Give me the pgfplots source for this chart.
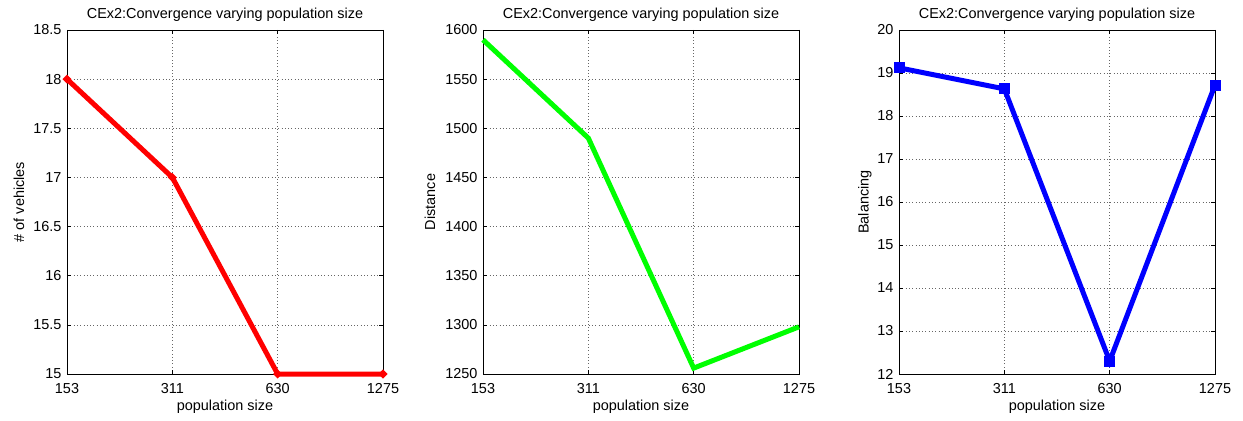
\documentclass[border=0pt]{standalone}
\usepackage{pgfplots}
\pgfplotsset{compat=1.18}
\usepackage{fontspec}
\setmainfont{Liberation Sans}
\pgfplotsset{
  mystyle/.style={
    scale only axis, width=316bp, height=344bp,
    xmin=0, xmax=3, xtick={0,1,2,3}, xticklabels={153,311,630,1275},
    grid=major, major grid style={black!60, line width=0.6pt, dash pattern=on 0.7bp off 2.6bp},
    tick align=inside, tick style={black, line width=0.5pt},
    axis line style={black, line width=0.8pt},
    major tick length=4bp,
    ticklabel style={font=\fontsize{14.5}{16}\selectfont},
    label style={font=\fontsize{14.5}{16}\selectfont},
    title style={font=\fontsize{14.5}{16}\selectfont, at={(axis description cs:0.5,1.026)}, anchor=center},
    /pgf/number format/assume math mode=true,
    xticklabel style={yshift=-5.5bp},
    yticklabel style={xshift=-2bp},
    xlabel={population size},
    xlabel style={at={(axis description cs:0.5,-0.096)}, anchor=center},
    title={CEx2:Convergence varying population size},
    anchor=south west,
    clip=false,
  }
}
\begin{document}
\begin{tikzpicture}[x=1bp,y=1bp]
\path[use as bounding box] (0,0) rectangle (1243,420);
\begin{axis}[mystyle, at={(67bp,46bp)}, ymin=15, ymax=18.5, ytick={15,15.5,...,18.5},
  yticklabels={15,15.5,16,16.5,17,17.5,18,18.5}, ylabel={\# of vehicles},
  ylabel style={at={(axis description cs:-0.152,0.5)}, anchor=center}]
\addplot[red, line width=5bp, mark=*, mark size=1bp] coordinates {(0,18) (1,17) (2,15) (3,15)};
\end{axis}
\begin{axis}[mystyle, at={(483bp,46bp)}, ymin=1250, ymax=1600, ytick={1250,1300,...,1600},
  yticklabels={1250,1300,1350,1400,1450,1500,1550,1600}, ylabel={Distance},
  ylabel style={at={(axis description cs:-0.168,0.5)}, anchor=center}]
\addplot[green, line width=5bp] coordinates {(0,1590) (1,1490) (2,1256) (3,1298)};
\end{axis}
\begin{axis}[mystyle, at={(899bp,46bp)}, ymin=12, ymax=20, ytick={12,...,20}, ylabel={Balancing},
  ylabel style={at={(axis description cs:-0.108,0.5)}, anchor=center}]
\addplot[blue, line width=5bp, mark=square*, mark size=3bp] coordinates {(0,19.12) (1,18.63) (2,12.3) (3,18.72)};
\end{axis}
\end{tikzpicture}
\end{document}
